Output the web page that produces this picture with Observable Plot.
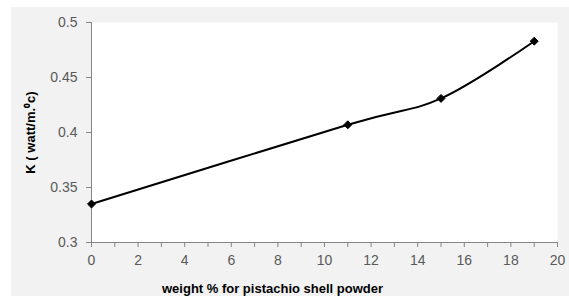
<!DOCTYPE html>
<html>
<head>
<meta charset="utf-8">
<script src="https://cdn.jsdelivr.net/npm/d3@7"></script>
<script src="https://cdn.jsdelivr.net/npm/@observablehq/plot@0.6"></script>
<style>
  html, body { margin: 0; padding: 0; background: #ffffff; }
  #wrap { position: relative; width: 569px; height: 296px; overflow: hidden; }
  #bg { position: absolute; left: 11px; top: 7px; width: 558px; height: 289px; background: #f2f2f2; }
  #chart { position: absolute; left: 0; top: 0; }
  #chart svg { background: transparent !important; }
  #chart svg text { font-size: 14px !important; font-family: 'Liberation Sans', Arial, sans-serif !important; }
  #chart svg g[aria-label="y-axis label"] text { font-size: 13px !important; font-weight: bold; fill: #000; }
  #chart svg g[aria-label="text"] text { font-size: 13px !important; }
</style>
</head>
<body>
<div id="wrap"><div id="bg"></div><div id="chart"></div></div>
<script>
const weightPct = [0, 11, 15, 19];
const kValues = [0.335, 0.407, 0.431, 0.483];
const xTicks = [0,1,2,3,4,5,6,7,8,9,10,11,12,13,14,15,16,17,18,19,20];
const yTicks = [0.3, 0.35, 0.4, 0.45, 0.5];
const yTickLabels = ["0.3", "0.35", "0.4", "0.45", "0.5"];
const xLabel = "weight % for pistachio shell powder";
const yLabel = "K ( watt/m.\u2070c)";

const data = weightPct.map((w, i) => ({w, k: kValues[i]}));

const chart = Plot.plot({
  width: 569,
  height: 296,
  marginLeft: 91,
  marginRight: 12,
  marginTop: 22,
  marginBottom: 54,
  style: {fontFamily: "'Liberation Sans', Arial, sans-serif", fontSize: "13px", background: "transparent", color: "#595959"},
  x: {domain: [0, 20]},
  y: {domain: [0.3, 0.5]},
  marks: [
    Plot.frame({fill: "white", stroke: null}),
    Plot.axisX({ticks: xTicks, tickSize: 5, tickPadding: 8, tickFormat: d => (d % 2 === 0 ? String(d) : ""), stroke: "#868686", label: null, fill: "#595959"}),
    Plot.axisY({ticks: yTicks, tickSize: 5, tickPadding: 9, tickFormat: (d, i) => yTickLabels[i], stroke: "#868686", fill: "#595959",
      label: yLabel, labelAnchor: "center", labelOffset: 66, labelArrow: "none"}),
    Plot.ruleX([0], {stroke: "#868686"}),
    Plot.ruleY([0.3], {stroke: "#868686"}),
    Plot.line(data, {x: "w", y: "k", curve: "cardinal", stroke: "black", strokeWidth: 2}),
    Plot.dot(data, {x: "w", y: "k", symbol: "diamond2", r: 3.6, fill: "black", stroke: "black", strokeWidth: 1}),
    Plot.text([xLabel], {frameAnchor: "bottom", text: d => d, dx: -52, dy: 50, lineAnchor: "bottom", fontWeight: "bold", fill: "black", fontSize: 13})
  ]
});
document.getElementById("chart").appendChild(chart);
</script>
</body>
</html>
